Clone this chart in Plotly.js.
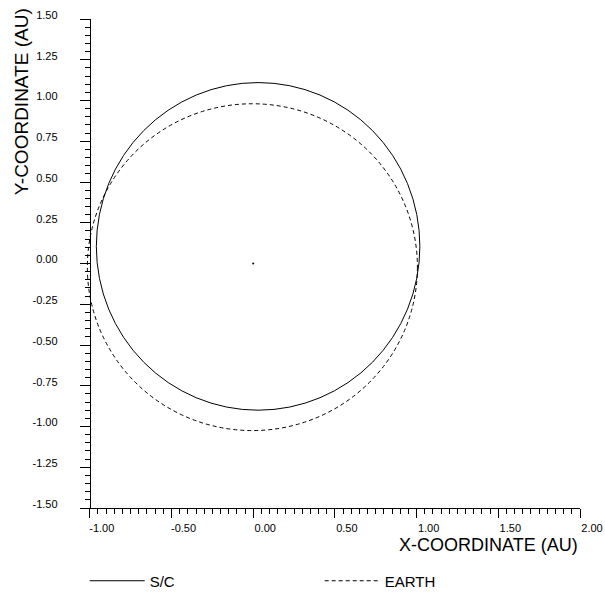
<!DOCTYPE html>
<html>
<head>
<meta charset="utf-8">
<script src="https://cdn.plot.ly/plotly-3.0.1.min.js"></script>
<style>html,body{margin:0;padding:0;background:#fff;}#chart{width:605px;height:592px;}</style>
</head>
<body>
<div id="chart"></div>
<script>
// Orbit extents (AU)
const orbitNames = ['S/C', 'EARTH'];
const orbitXMin = [-0.96, -1.015];
const orbitXMax = [1.02, 1.005];
const orbitYMin = [-0.90, -1.025];
const orbitYMax = [1.11, 0.98];
// Sun at the origin
const sunX = [0];
const sunY = [0];
// Tick labels
const yTickVals = [-1.5, -1.25, -1.0, -0.75, -0.5, -0.25, 0, 0.25, 0.5, 0.75, 1.0, 1.25, 1.5];
const yTickText = ['-1.50', '-1.25', '-1.00', '-0.75', '-0.50', '-0.25', '0.00', '0.25', '0.50', '0.75', '1.00', '1.25', '1.50'];
const xTickVals = [-1.0, -0.75, -0.5, -0.25, 0, 0.25, 0.5, 0.75, 1.0, 1.25, 1.5, 1.75, 2.0];
const xTickText = ['-1.00', '', '-0.50', '', '0.00', '', '0.50', '', '1.00', '', '1.50', '', '2.00'];

const FONT = '"Liberation Sans", Arial, sans-serif';

function minorVals(lo, hi, step) {
  const out = [];
  const n = Math.round((hi - lo) / step);
  for (let i = 0; i <= n; i++) out.push(+(lo + i * step).toFixed(4));
  return out;
}

const orbitStyles = [
  {color: '#000', width: 1, dash: 'solid'},
  {color: '#000', width: 1, dash: '4px,3px'}
];

const shapes = orbitNames.map((nm, i) => ({
  type: 'circle', xref: 'x', yref: 'y',
  x0: orbitXMin[i], x1: orbitXMax[i], y0: orbitYMin[i], y1: orbitYMax[i],
  line: orbitStyles[i], fillcolor: 'rgba(0,0,0,0)',
  showlegend: false, layer: 'above'
}));

const traces = [{
  x: sunX, y: sunY, type: 'scatter', mode: 'markers',
  marker: {color: '#000', size: 2}, showlegend: false, hoverinfo: 'skip', cliponaxis: false
}];
// legend entries for the two orbit shapes
orbitNames.forEach((nm, i) => {
  traces.push({x: [null], y: [null], type: 'scatter', mode: 'lines', name: nm,
    line: orbitStyles[i], hoverinfo: 'skip'});
});

const layout = {
  width: 605, height: 592,
  margin: {l: 80, r: 25, t: 19, b: 84},
  paper_bgcolor: '#fff', plot_bgcolor: '#fff',
  font: {family: FONT, color: '#000', size: 11},
  showlegend: true,
  xaxis: {
    range: [-1.06, 2.0], showgrid: false, zeroline: false,
    showline: true, linecolor: '#000', linewidth: 1,
    tickmode: 'array', tickvals: xTickVals, ticktext: xTickText,
    ticks: 'outside', ticklen: 9, tickwidth: 1, tickcolor: '#000',
    ticklabelshift: 12, ticklabelstandoff: 1,
    minor: {tickmode: 'array', tickvals: minorVals(-1, 2, 0.05), ticks: 'outside', ticklen: 5, tickwidth: 1, tickcolor: '#000', showgrid: false},
    tickfont: {size: 11, family: FONT, color: '#000'},
    fixedrange: true, automargin: false
  },
  yaxis: {
    range: [-1.5, 1.5], showgrid: false, zeroline: false,
    anchor: 'free', position: 0.06 / 3.06,
    showline: true, linecolor: '#000', linewidth: 1,
    tickmode: 'array', tickvals: yTickVals, ticktext: yTickText,
    ticks: 'outside', ticklen: 10, tickwidth: 1, tickcolor: '#000',
    ticklabelshift: -4, ticklabelstandoff: 20,
    minor: {tickmode: 'array', tickvals: minorVals(-1.5, 1.5, 0.05), ticks: 'outside', ticklen: 5, tickwidth: 1, tickcolor: '#000', showgrid: false},
    tickfont: {size: 11, family: FONT, color: '#000'},
    fixedrange: true, automargin: false
  },
  shapes: shapes,
  annotations: [
    {text: 'X-COORDINATE (AU)', xref: 'paper', yref: 'paper', x: 1.0, y: -0.0755,
     xanchor: 'right', yanchor: 'middle', showarrow: false, font: {size: 18, family: FONT, color: '#000'}},
    {text: 'Y-COORDINATE (AU)', xref: 'paper', yref: 'paper', x: -0.118, y: 0.83,
     xanchor: 'center', yanchor: 'middle', textangle: -90, showarrow: false, font: {size: 19, family: FONT, color: '#000'}}
  ],
  legend: {
    orientation: 'h', xref: 'container', yref: 'container',
    x: 0.14, y: 0.0186, xanchor: 'left', yanchor: 'middle',
    font: {size: 15, family: FONT, color: '#000'},
    itemwidth: 55,
    entrywidth: 165, entrywidthmode: 'pixels', bgcolor: 'rgba(0,0,0,0)'
  }
};

Plotly.newPlot('chart', traces, layout, {staticPlot: true, displayModeBar: false});
</script>
</body>
</html>
